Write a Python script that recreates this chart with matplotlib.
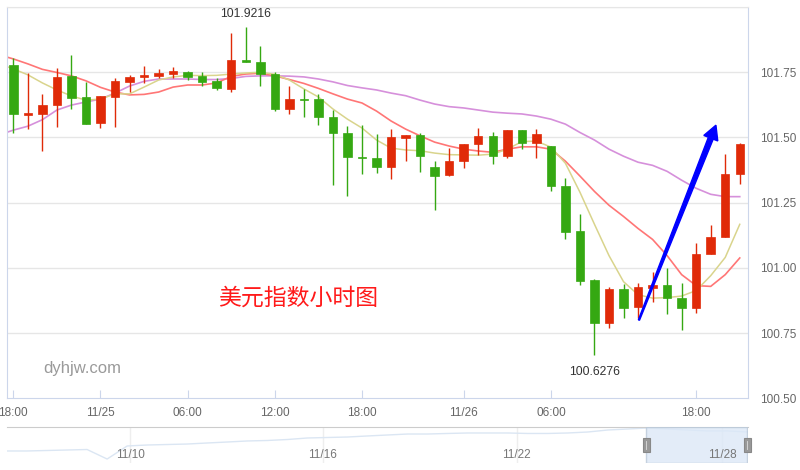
import numpy as np
import matplotlib
matplotlib.use('Agg')
import matplotlib.pyplot as plt
from matplotlib.patches import Polygon, Rectangle
from matplotlib.transforms import IdentityTransform

# hourly candles (index 0 = 18:00 on 11/24)
opens = [101.777, 101.585, 101.591, 101.623, 101.737, 101.655, 101.557, 101.656, 101.714, 101.733,
         101.735, 101.743, 101.751, 101.737, 101.715, 101.687, 101.795, 101.791, 101.743, 101.610,
         101.649, 101.649, 101.579, 101.518, 101.424, 101.422, 101.386, 101.499, 101.508, 101.386,
         101.355, 101.409, 101.473, 101.505, 101.428, 101.530, 101.477, 101.467, 101.315, 101.143,
         100.954, 100.787, 100.918, 100.849, 100.923, 100.935, 100.886, 100.845, 101.053, 101.120,
         101.358]
highs = [101.805, 101.746, 101.668, 101.765, 101.817, 101.712, 101.659, 101.727, 101.741, 101.773,
         101.762, 101.769, 101.756, 101.751, 101.727, 101.901, 101.9216, 101.849, 101.749, 101.697,
         101.685, 101.665, 101.604, 101.543, 101.547, 101.512, 101.533, 101.508, 101.518, 101.410,
         101.460, 101.476, 101.537, 101.522, 101.530, 101.530, 101.533, 101.467, 101.345, 101.208,
         100.956, 100.927, 100.938, 100.941, 100.986, 100.999, 100.941, 101.097, 101.165, 101.437,
         101.479]
lows = [101.518, 101.533, 101.447, 101.540, 101.610, 101.553, 101.535, 101.540, 101.674, 101.710,
        101.727, 101.727, 101.720, 101.697, 101.681, 101.675, 101.790, 101.697, 101.600, 101.591,
        101.578, 101.549, 101.318, 101.277, 101.358, 101.364, 101.341, 101.409, 101.367, 101.223,
        101.351, 101.381, 101.432, 101.399, 101.422, 101.454, 101.422, 101.296, 101.110, 100.935,
        100.665, 100.769, 100.809, 100.809, 100.870, 100.822, 100.761, 100.828, 101.053, 101.120,
        101.322]
closes = [101.588, 101.593, 101.626, 101.733, 101.653, 101.553, 101.659, 101.715, 101.733, 101.738,
          101.748, 101.754, 101.732, 101.714, 101.688, 101.795, 101.790, 101.742, 101.610, 101.649,
          101.647, 101.578, 101.518, 101.424, 101.422, 101.386, 101.501, 101.508, 101.428, 101.354,
          101.410, 101.476, 101.505, 101.428, 101.530, 101.480, 101.512, 101.313, 101.136, 100.951,
          100.787, 100.918, 100.845, 100.928, 100.935, 100.883, 100.845, 101.054, 101.120, 101.358,
          101.473]

# moving averages, first value belongs to the bar before the window
ma5 = [101.782, 101.763, 101.740, 101.709, 101.682, 101.659, 101.643, 101.647, 101.667, 101.667,
       101.693, 101.720, 101.732, 101.738, 101.737, 101.738, 101.743, 101.747, 101.750, 101.742,
       101.720, 101.686, 101.655, 101.609, 101.570, 101.536, 101.490, 101.459, 101.452, 101.449,
       101.440, 101.434, 101.433, 101.432, 101.436, 101.455, 101.484, 101.486, 101.463, 101.401,
       101.290, 101.167, 101.047, 100.947, 100.897, 100.884, 100.886, 100.892, 100.913, 100.970,
       101.040, 101.167]
ma10 = [101.817, 101.801, 101.782, 101.761, 101.749, 101.736, 101.717, 101.692, 101.674, 101.663,
        101.665, 101.674, 101.693, 101.701, 101.701, 101.709, 101.734, 101.743, 101.746, 101.736,
        101.722, 101.707, 101.688, 101.667, 101.647, 101.632, 101.601, 101.563, 101.532, 101.506,
        101.482, 101.467, 101.455, 101.448, 101.443, 101.455, 101.464, 101.464, 101.455, 101.409,
        101.352, 101.293, 101.240, 101.197, 101.151, 101.109, 101.047, 100.974, 100.932, 100.929,
        100.974, 101.038]
ma20 = [101.509, 101.528, 101.543, 101.568, 101.605, 101.624, 101.636, 101.647, 101.670, 101.697,
        101.715, 101.724, 101.724, 101.724, 101.722, 101.722, 101.726, 101.734, 101.736, 101.736,
        101.735, 101.732, 101.724, 101.713, 101.699, 101.690, 101.682, 101.670, 101.660, 101.643,
        101.628, 101.618, 101.613, 101.605, 101.597, 101.593, 101.590, 101.582, 101.570, 101.551,
        101.519, 101.490, 101.455, 101.428, 101.405, 101.393, 101.370, 101.336, 101.305, 101.282,
        101.273, 101.273]

tick_pos = [0, 6, 12, 18, 24, 31, 37, 47]
tick_labels = ['18:00', '11/25', '06:00', '12:00', '18:00', '11/26', '06:00', '18:00']
price_ticks = [100.5, 100.75, 101.0, 101.25, 101.5, 101.75]
low_label = '100.6276'

# overview strip
nav_prices = [98.52, 98.52, 98.60, 98.68, 98.76, 97.20, 99.34, 99.50, 99.58, 99.66,
              99.83, 99.99, 100.16, 100.24, 100.40, 100.65, 100.73, 100.81, 100.98, 101.14,
              101.30, 101.30, 101.39, 101.47, 101.47, 101.47, 101.39, 101.39, 101.47, 101.63,
              101.96, 102.12, 102.29, 102.12, 101.96, 101.80, 101.80, 101.63]
nav_labels = ['11/10', '11/16', '11/22', '11/28']
nav_label_pos = [0.166, 0.426, 0.688, 0.965]
nav_window = (0.863, 0.999)

RED = '#e02a08'
GREEN = '#35a812'
AXIS_C = '#ccd6eb'
TXT = '#666666'

fig = plt.figure(figsize=(8, 4.7), dpi=100)
ax = fig.add_axes([7/800, 1-398.3/470, 741/800, (398.3-7)/470])

o = np.array(opens); c = np.array(closes)
h = np.array(highs); l = np.array(lows)
x = np.arange(len(o))
cols = [RED if cc > oo else GREEN for oo, cc in zip(o, c)]

ax.vlines(x, l, h, colors=cols, lw=1, zorder=3)
body = c - o
body = np.where(np.abs(body) < 0.004, np.where(body < 0, -0.004, 0.004), body)
ax.bar(x, body, bottom=o, width=0.58, color=cols, edgecolor=cols, lw=0.5, zorder=4)

xm = np.arange(-1, len(o))
ax.plot(xm, ma20, color='#d690db', lw=1.2, zorder=2)
ax.plot(xm, ma10, color='#ff7676', lw=1.2, zorder=2)
ax.plot(xm, ma5, color='#d9d48c', lw=1.1, zorder=2)

ax.set_xlim(-0.434, 50.567)
ax.set_ylim(100.5, 102.0)
for p in price_ticks[1:] + [102.0]:
    ax.axhline(p, color='#e6e6e6', lw=1, zorder=0)

ax.yaxis.tick_right()
ax.set_yticks(price_ticks)
ax.set_yticklabels(['%.2f' % p for p in price_ticks])
ax.tick_params(axis='y', length=0, pad=9, labelsize=8.5, labelcolor=TXT)
ax.set_xticks(tick_pos)
ax.set_xticklabels(tick_labels)
ax.tick_params(axis='x', direction='in', length=6, color=AXIS_C, pad=6,
               labelsize=8.5, labelcolor=TXT)
for lab in ax.get_xticklabels() + ax.get_yticklabels():
    lab.set_family('Liberation Sans')

ax.spines['left'].set_color(AXIS_C)
ax.spines['right'].set_color(AXIS_C)
ax.spines['bottom'].set_color(AXIS_C)
ax.spines['top'].set_color('#e6e6e6')

# max / min labels
imax = int(np.argmax(h)); imin = int(np.argmin(l))
ax.annotate('%.4f' % h[imax], (imax, h[imax]), xytext=(0, 10), textcoords='offset points',
            ha='center', va='center', fontsize=8.8, color='#333333', family='Liberation Sans')
ax.annotate(low_label, (imin, l[imin]), xytext=(0, -12), textcoords='offset points',
            ha='center', va='center', fontsize=8.8, color='#333333', family='Liberation Sans')

fig.text(218/800, 1-298/470, '美元指数小时图', color='#ff1a1a', fontsize=16.5,
         family=['Noto Sans CJK SC', 'DejaVu Sans'], va='center', ha='left')
fig.text(43/800, 1-369/470, 'dyhjw.com', color='#9a9a9a', fontsize=12,
         family='Liberation Sans', va='center', ha='left')

# blue arrow, tapered shaft
p0 = ax.transData.transform((43.06, 100.80))
p1 = ax.transData.transform((48.36, 101.547))
d = p1 - p0
u = d / np.hypot(*d)
n = np.array([-u[1], u[0]])
base = p1 - u * 14
pts = [p0 + n*0.6, base + n*2.6, base + n*7.5, p1, base - n*7.5, base - n*2.6, p0 - n*0.6]
ax.add_patch(Polygon(pts, closed=True, transform=IdentityTransform(), color='#0000ff',
                     zorder=6, clip_on=False))

# navigator
nav = fig.add_axes([7/800, 1-463.3/470, 741/800, 36.6/470])
nx = np.linspace(0, 1, len(nav_prices))
nav.plot(nx, nav_prices, color='#dbe6f3', lw=1)
nav.set_xlim(0, 1)
nav.set_ylim(96.5, 102.5)
for p, lab in zip(nav_label_pos, nav_labels):
    nav.axvline(p, color='#eeeeee', lw=1, zorder=0)
    nav.text(p, 0.22, lab, transform=nav.get_xaxis_transform(), zorder=6,
             ha='center', va='center', fontsize=8.5, color='#777777', family='Liberation Sans')
nav.set_xticks([]); nav.set_yticks([])
for s in ['left', 'right', 'bottom']:
    nav.spines[s].set_visible(False)
nav.spines['top'].set_color('#cccccc')
nav.add_patch(Rectangle((nav_window[0], 0), nav_window[1]-nav_window[0], 1,
                        transform=nav.transAxes, facecolor='#dce8f7', edgecolor='#bac8d8',
                        alpha=0.8, lw=1, zorder=3))
for wx in nav_window:
    nav.add_patch(Rectangle((wx - 0.0045, 0.3), 0.009, 0.38, transform=nav.transAxes,
                            facecolor='#999999', edgecolor='#888888', lw=0.8, zorder=4,
                            clip_on=False))
    nav.plot([wx, wx], [0.38, 0.6], transform=nav.transAxes, color='#dddddd', lw=0.6,
             zorder=5, clip_on=False)

fig.savefig('out.png', dpi=100)
